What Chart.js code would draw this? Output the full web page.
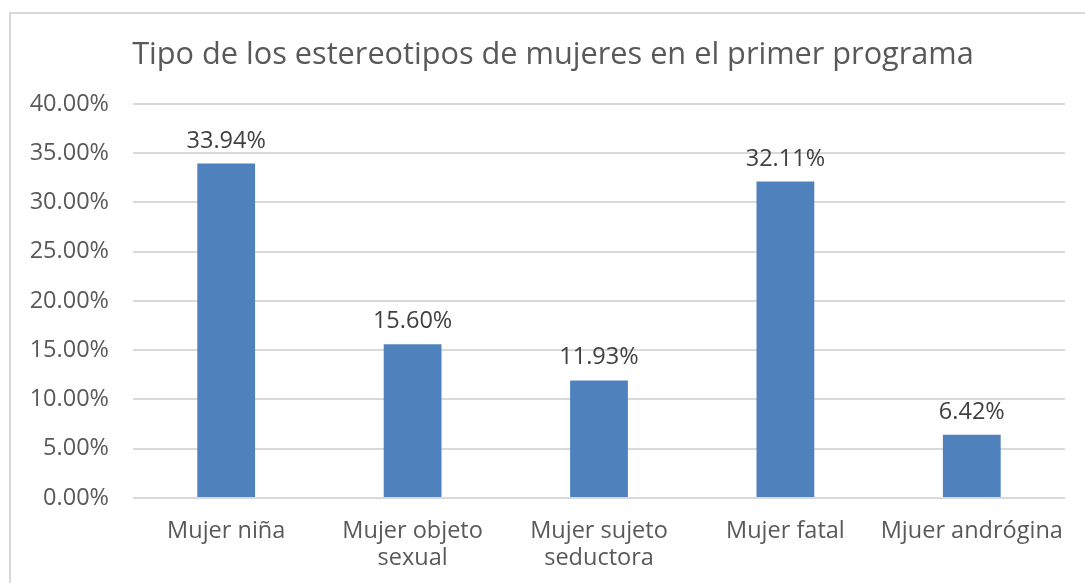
<!DOCTYPE html>
<html>
<head>
<meta charset="utf-8">
<script src="https://cdn.jsdelivr.net/npm/chart.js@4.4.1/dist/chart.umd.min.js"></script>
<style>
  html, body { margin: 0; padding: 0; background: #fff; overflow: hidden; }
  #frame {
    position: absolute; left: 9px; top: 12px;
    width: 1100px; height: 584px;
    border: 2px solid #d9d9d9; box-sizing: border-box;
  }
  #chart-wrap { position: absolute; left: 18px; top: 0; width: 1060px; height: 580px; }
</style>
</head>
<body>
<div id="frame">
  <div id="chart-wrap"><canvas id="estereotipos-chart"></canvas></div>
</div>
<script>
// Chart data
const chartTitle = 'Tipo de los estereotipos de mujeres en el primer programa';
const categories = [
  'Mujer niña',
  ['Mujer objeto', 'sexual'],
  ['Mujer sujeto', 'seductora'],
  'Mujer fatal',
  'Mjuer andrógina'
];
const percentages = [33.94, 15.60, 11.93, 32.11, 6.42];
const yTicks = [0, 5, 10, 15, 20, 25, 30, 35, 40];

const fontFamily = '"Open Sans", "Liberation Sans", sans-serif';
const labelSize = 23.5;

// draws the value above each bar (no datalabels plugin here)
const barValueLabels = {
  id: 'barValueLabels',
  afterLayout(chart) {
    // title is centred on the whole frame, a bit right of the canvas centre
    if (chart.titleBlock) {
      chart.titleBlock.left += 6;
      chart.titleBlock.right += 6;
    }
  },
  afterDatasetsDraw(chart) {
    const ctx = chart.ctx;
    const meta = chart.getDatasetMeta(0);
    ctx.save();
    ctx.font = labelSize + 'px ' + fontFamily;
    ctx.fillStyle = '#404040';
    ctx.textAlign = 'center';
    ctx.textBaseline = 'alphabetic';
    meta.data.forEach((bar, i) => {
      const v = chart.data.datasets[0].data[i];
      ctx.fillText(v.toFixed(2) + '%', bar.x, bar.y - 16);
    });
    ctx.restore();
  }
};

function initChart() {
  const ctx = document.getElementById('estereotipos-chart').getContext('2d');

  new Chart(ctx, {
    type: 'bar',
    data: {
      labels: categories,
      datasets: [{
        data: percentages,
        backgroundColor: '#4f81bd',
        borderWidth: 0,
        barPercentage: 0.31,
        categoryPercentage: 1
      }]
    },
    options: {
      responsive: true,
      maintainAspectRatio: false,
      animation: false,
      layout: {
        padding: { left: 0, right: 24, top: 0, bottom: 2 }
      },
      plugins: {
        legend: { display: false },
        tooltip: { enabled: false },
        title: {
          display: true,
          text: chartTitle,
          color: '#595959',
          font: { family: fontFamily, size: 30.7, weight: 'normal' },
          padding: { top: 23, bottom: 30 }
        }
      },
      scales: {
        x: {
          grid: { display: false, drawTicks: false },
          border: { display: false },
          ticks: {
            color: '#595959',
            font: { family: fontFamily, size: labelSize, lineHeight: 1.15 },
            padding: 20,
            maxRotation: 0,
            autoSkip: false
          }
        },
        y: {
          min: 0,
          max: 40,
          afterFit: (scale) => { scale.width = 104; },
          afterBuildTicks: (scale) => {
            scale.ticks = yTicks.map(v => ({ value: v }));
          },
          grid: { color: '#d9d9d9', lineWidth: 2, drawTicks: false },
          border: { display: false },
          ticks: {
            color: '#595959',
            font: { family: fontFamily, size: labelSize },
            padding: 24,
            callback: (value) => value.toFixed(2) + '%'
          }
        }
      }
    },
    plugins: [barValueLabels]
  });
}

document.addEventListener('DOMContentLoaded', initChart);
</script>
</body>
</html>
